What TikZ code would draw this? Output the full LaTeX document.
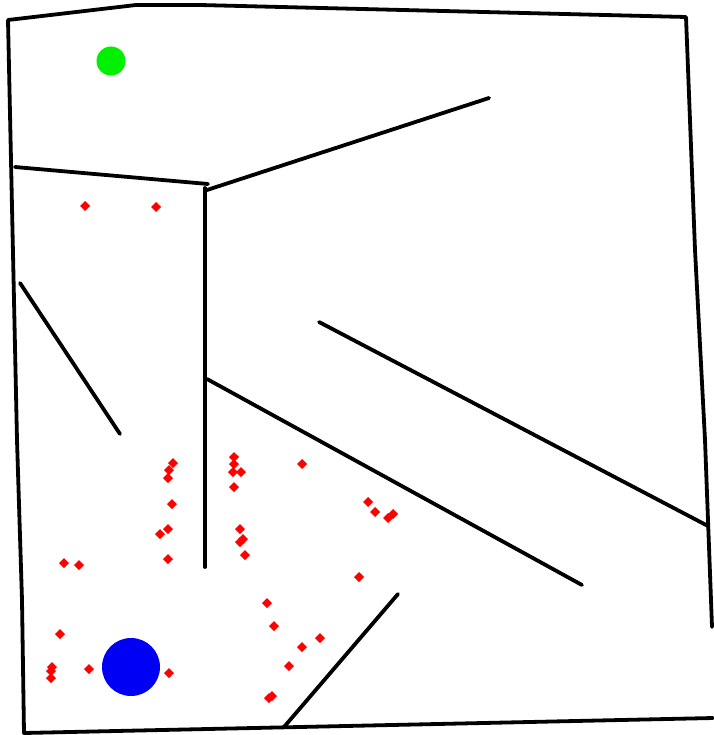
\documentclass[tikz,border=0pt]{standalone}
\usepackage{tikz}
\definecolor{goalgreen}{HTML}{00F000}
\definecolor{startblue}{HTML}{0000F5}
\definecolor{samplered}{HTML}{FF0000}
\tikzset{
  wall/.style={black,line width=3.8pt,line cap=round,line join=round},
  sample/.style={fill=samplered}
}

\begin{document}
\begin{tikzpicture}[x=1pt,y=-1pt]
  \useasboundingbox (0,0) rectangle (713,735);

  % outer boundary
  \draw[wall] (712,627) -- (705,440) -- (695,250) -- (686,17)
    -- (200,5) -- (136,5) -- (8,20) -- (17,440) -- (22,600) -- (24,733) -- (713,718);

  % inner walls
  \draw[wall] (15,167) -- (208,184);
  \draw[wall] (205,188) -- (205,567);
  \draw[wall] (207,190) -- (489,98);
  \draw[wall] (20,283) -- (120,434);
  \draw[wall] (207,379) -- (582,585);
  \draw[wall] (319,322) -- (708,526);
  \draw[wall] (398,594) -- (284,727);

  % goal and start
  \fill[goalgreen] (111,61) circle (14.5);
  \fill[startblue] (131,667) circle (29);

  % sampled points
  \foreach \px/\py in {85/206,156/207,
      173/463,169/470,168/478,172/504,168/529,160/534,168/559,64/563,79/565,
      234/457,234/464,233/472,241/472,234/487,302/464,240/529,243/539,240/542,245/555,
      368/502,375/512,388/518,393/514,359/577,267/603,
      274/626,320/638,302/647,289/666,272/696,269/698,
      60/634,52/667,51/671,51/678,89/669,169/673}
    \fill[sample] (\px,\py) +(-5,0) -- +(0,-5) -- +(5,0) -- +(0,5) -- cycle;
\end{tikzpicture}
\end{document}
